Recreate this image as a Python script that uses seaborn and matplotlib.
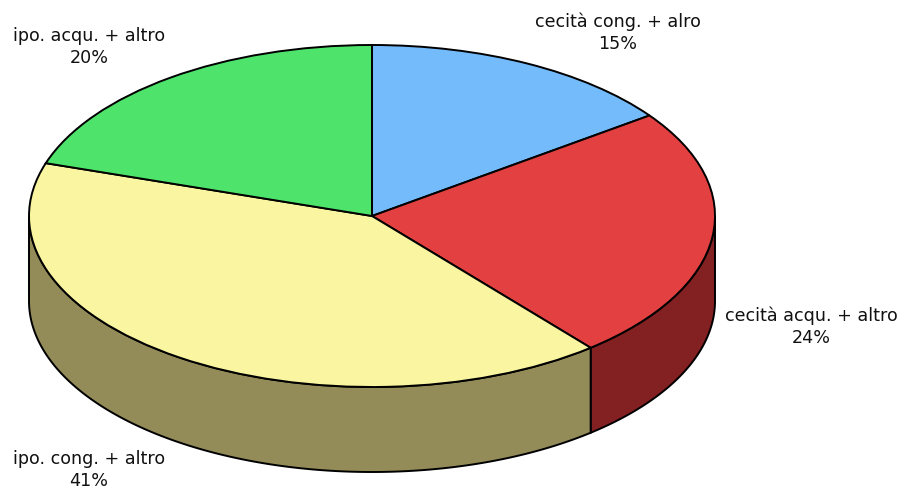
import numpy as np
import matplotlib
matplotlib.use("Agg")
import matplotlib.pyplot as plt
import seaborn as sns

# Distribution of visual impairment categories
categories = ["cecità cong. + alro", "cecità acqu. + altro", "ipo. cong. + altro", "ipo. acqu. + altro"]
shares = [15, 24, 41, 20]
top_colors = ["#74BBFB", "#E34141", "#FAF5A0", "#4EE46C"]
side_colors = ["#3F6E98", "#832022", "#938B58", "#2E8A40"]

sns.set_theme(style="white")
plt.rcParams["font.family"] = ["DejaVu Sans"]

W, H = 902, 490
fig = plt.figure(figsize=(W / 100, H / 100), dpi=100)
ax = fig.add_axes([0, 0, 1, 1])

# Ellipse geometry (pixel units), y squashed via data scaling
cx_px, cy_px = 372, 216
rx_px, ry_px = 343, 171
depth_px = 85
s = ry_px / rx_px
ylim_top = H / s


def to_data_y(ypx):
    return (H - ypx) / s


cx, cy = cx_px, to_data_y(cy_px)
R = rx_px
d = depth_px / s

# Side walls for the front half of the cylinder
fractions = np.array(shares) / np.sum(shares)
bounds = 90 - np.concatenate([[0], np.cumsum(fractions)]) * 360
for i in range(len(shares)):
    hi, lo = bounds[i], bounds[i + 1]
    a, b = max(lo, -180), min(hi, 0)
    if b <= a:
        continue
    th = np.radians(np.linspace(a, b, 200))
    xt = cx + R * np.cos(th)
    yt = cy + R * np.sin(th)
    xs = np.concatenate([xt, xt[::-1]])
    ys = np.concatenate([yt, (yt - d)[::-1]])
    ax.fill(xs, ys, facecolor=side_colors[i], edgecolor="black", linewidth=1.4, zorder=1)

# Top face
wedges, _ = ax.pie(shares, colors=top_colors, startangle=90, counterclock=False,
                   radius=R, center=(cx, cy),
                   wedgeprops=dict(edgecolor="black", linewidth=1.4))
for w in wedges:
    w.set_zorder(2)

ax.set_aspect("auto")
ax.set_xlim(0, W)
ax.set_ylim(0, ylim_top)
ax.axis("off")

# Label placement (pixel centres)
label_pos = [(618, 33), (811, 327), (89, 470), (89, 47)]
for name, val, (lx, ly) in zip(categories, shares, label_pos):
    ax.text(lx, to_data_y(ly), f"{name}\n{val}%", ha="center", va="center",
            fontsize=12.6, color="#111111", linespacing=1.3, zorder=5)

fig.savefig("out.png", dpi=100)
